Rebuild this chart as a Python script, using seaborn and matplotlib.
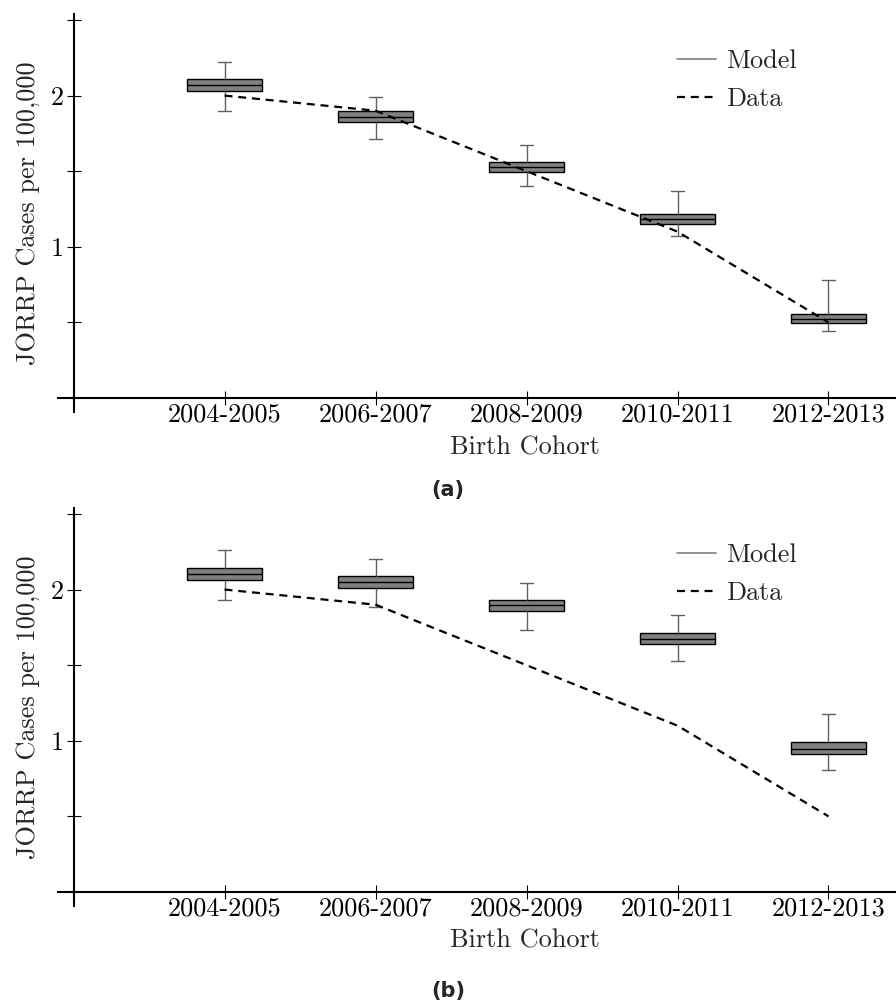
import numpy as np
import pandas as pd
import seaborn as sns
import matplotlib.pyplot as plt
from matplotlib.lines import Line2D

# когорты и наблюдаемые данные
cohorts = ['2004-2005', '2006-2007', '2008-2009', '2010-2011', '2012-2013']
data_rate = [2.0, 1.9, 1.5, 1.1, 0.5]

# модель, панель (a): min, q1, медиана, q3, max
a_low = [1.90, 1.71, 1.40, 1.07, 0.44]
a_q1 = [2.03, 1.825, 1.493, 1.15, 0.494]
a_med = [2.067, 1.86, 1.526, 1.182, 0.522]
a_q3 = [2.107, 1.896, 1.559, 1.217, 0.558]
a_high = [2.22, 1.99, 1.675, 1.37, 0.78]

# модель, панель (b)
b_low = [1.93, 1.885, 1.735, 1.53, 0.81]
b_q1 = [2.064, 2.01, 1.861, 1.64, 0.912]
b_med = [2.10, 2.05, 1.896, 1.675, 0.947]
b_q3 = [2.14, 2.09, 1.929, 1.71, 0.99]
b_high = [2.26, 2.205, 2.044, 1.83, 1.18]

y_ticks = [0.5, 1, 1.5, 2, 2.5]
y_ticklabels = ['', '1', '', '2', '']

FS = 18.9
BOX_GRAY = '#808080'
WHISK_GRAY = '#606060'
DASH = (3.6, 2.6)


def five_num_table(low, q1, med, q3, high):
    # пять значений на когорту -> boxplot даёт ровно эти квартили
    vals = np.column_stack([low, q1, med, q3, high]).ravel()
    return pd.DataFrame({'cohort': np.repeat(cohorts, 5), 'rate': vals})


def draw_panel(ax, table):
    sns.boxplot(
        data=table, x='cohort', y='rate', order=cohorts, ax=ax,
        whis=(0, 100), width=0.5, color=BOX_GRAY, saturation=1,
        linecolor='black', linewidth=1.0, fliersize=0,
        whiskerprops=dict(color=WHISK_GRAY, linewidth=1.0),
        capprops=dict(color=WHISK_GRAY, linewidth=1.0),
        medianprops=dict(color='black', linewidth=1.0),
        capwidths=0.09, zorder=2,
    )
    sns.lineplot(x=cohorts, y=data_rate, ax=ax, sort=False,
                 color='black', linewidth=1.6, zorder=3)
    ax.get_lines()[-1].set_dashes(DASH)

    ax.set_xlim(-1.1, 4.45)
    ax.set_ylim(-0.09, 2.54)
    ax.set_xticks(range(len(cohorts)), cohorts)
    ax.set_yticks(y_ticks, y_ticklabels)

    for side in ['top', 'right']:
        ax.spines[side].set_visible(False)
    ax.spines['left'].set_position(('data', -1))
    ax.spines['bottom'].set_position(('data', 0))
    for side in ['left', 'bottom']:
        ax.spines[side].set_linewidth(1.5)
        ax.spines[side].set_color('black')

    ax.tick_params(axis='x', bottom=True, direction='inout', length=10,
                   width=0.8, pad=-1.6, labelsize=FS, colors='black')
    ax.tick_params(axis='y', left=True, direction='inout', length=10,
                   width=0.8, pad=2.2, labelsize=FS, colors='black')

    ax.set_xlabel('Birth Cohort', fontsize=FS)
    ax.xaxis.label.set_va('baseline')
    ax.xaxis.set_label_coords(0.557, -0.1066)
    ax.set_ylabel('JORRP Cases per 100,000', fontsize=FS)
    ax.yaxis.label.set_va('baseline')
    ax.yaxis.set_label_coords(-0.0279, 0.5)

    handles = [Line2D([], [], color=BOX_GRAY, linewidth=1.2),
               Line2D([], [], color='black', linewidth=1.6, dashes=DASH)]
    ax.legend(handles, ['Model', 'Data'], loc='upper left',
              bbox_to_anchor=(0.738, 0.91), frameon=False, fontsize=FS,
              borderpad=0, borderaxespad=0, handlelength=1.48,
              handletextpad=0.38, labelspacing=0.52)
    ax.patch.set_alpha(0)


sns.set_style('white')
plt.rcParams['font.family'] = ['cmr10', 'DejaVu Serif']
plt.rcParams['axes.unicode_minus'] = False

fig = plt.figure(figsize=(8.96, 10.01), dpi=100)
ax_a = fig.add_axes([0.0652, 0.5888, 0.9353, 0.3973])
ax_b = fig.add_axes([0.0652, 0.0953, 0.9353, 0.3973])

draw_panel(ax_a, five_num_table(a_low, a_q1, a_med, a_q3, a_high))
draw_panel(ax_b, five_num_table(b_low, b_q1, b_med, b_q3, b_high))

fig.text(0.5, 1 - 490 / 1001, '(a)', ha='center', va='center',
         fontsize=15, fontweight='bold', family='DejaVu Sans')
fig.text(0.5, 1 - 991 / 1001, '(b)', ha='center', va='center',
         fontsize=15, fontweight='bold', family='DejaVu Sans')

fig.savefig('out.png', dpi=100)
